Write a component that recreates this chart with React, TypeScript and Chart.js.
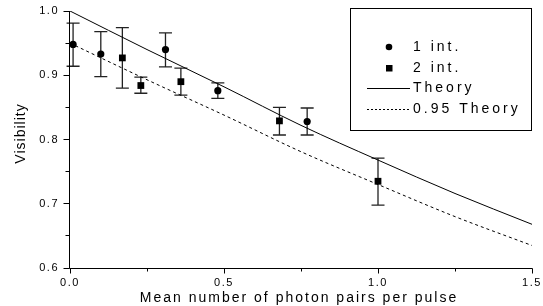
import React, { useEffect, useRef } from 'react';
import { Chart, registerables } from 'chart.js';

Chart.register(...registerables);

// ---- data ----
const oneIntX = [0.01, 0.10, 0.31, 0.48, 0.77];
const oneIntY = [0.948, 0.933, 0.940, 0.876, 0.828];
const oneIntHigh = [0.981, 0.968, 0.966, 0.888, 0.849];
const oneIntLow = [0.914, 0.898, 0.913, 0.864, 0.807];

const twoIntX = [0.17, 0.23, 0.36, 0.68, 1.00];
const twoIntY = [0.927, 0.884, 0.890, 0.829, 0.735];
const twoIntHigh = [0.974, 0.897, 0.911, 0.850, 0.771];
const twoIntLow = [0.880, 0.872, 0.869, 0.807, 0.698];

const theoryX = [0, 0.25, 0.5, 0.75, 1.0, 1.25, 1.5];
const theoryY = [1.0, 0.940, 0.882, 0.822, 0.768, 0.716, 0.668];
const theory95Y = [0.950, 0.893, 0.838, 0.781, 0.730, 0.680, 0.635];

const xTickValues = [0, 0.25, 0.5, 0.75, 1.0, 1.25, 1.5];
const xMajorValues = [0, 0.5, 1.0, 1.5];
const xTickLabels = ['0.0', '0.5', '1.0', '1.5'];
const yTickValues = [0.6, 0.65, 0.7, 0.75, 0.8, 0.85, 0.9, 0.95, 1.0];
const yMajorValues = [0.6, 0.7, 0.8, 0.9, 1.0];
const yTickLabels = ['0.6', '0.7', '0.8', '0.9', '1.0'];

const seriesNames = ['1 int.', '2 int.', 'Theory', '0.95 Theory'];
const xTitle = 'Mean number of photon pairs per pulse';
const yTitle = 'Visibility';

const FONT = '"Liberation Sans", Arial, sans-serif';

function majorIndex(list: number[], v: number) {
  return list.findIndex((m) => Math.abs(m - v) < 1e-6);
}

const customPlugin = {
  id: 'customDraw',
  beforeDraw(chart: any) {
    chart.ctx.letterSpacing = '1.5px';
  },
  beforeDatasetsDraw(chart: any) {
    const ctx = chart.ctx;
    const xs = chart.scales.x;
    const ys = chart.scales.y;
    ctx.save();
    ctx.strokeStyle = '#222';
    ctx.lineWidth = 1.3;
    const cap = 6.5;
    const drawBars = (xsArr: number[], lo: number[], hi: number[]) => {
      xsArr.forEach((x, i) => {
        const px = xs.getPixelForValue(x);
        const pl = ys.getPixelForValue(lo[i]);
        const ph = ys.getPixelForValue(hi[i]);
        ctx.beginPath();
        ctx.moveTo(px, pl);
        ctx.lineTo(px, ph);
        ctx.moveTo(px - cap, pl);
        ctx.lineTo(px + cap, pl);
        ctx.moveTo(px - cap, ph);
        ctx.lineTo(px + cap, ph);
        ctx.stroke();
      });
    };
    drawBars(oneIntX, oneIntLow, oneIntHigh);
    drawBars(twoIntX, twoIntLow, twoIntHigh);
    ctx.restore();
  },
  afterDraw(chart: any) {
    const ctx = chart.ctx;
    const area = chart.chartArea;
    const xs = chart.scales.x;
    const ys = chart.scales.y;
    ctx.save();
    ctx.letterSpacing = '0px';
    // axes and tick marks
    ctx.strokeStyle = '#000';
    ctx.lineWidth = 1;
    const left = Math.round(area.left) - 0.5;
    const bottom = Math.round(area.bottom) + 0.5;
    ctx.beginPath();
    ctx.moveTo(left, Math.round(area.top));
    ctx.lineTo(left, bottom);
    ctx.lineTo(Math.round(area.right) + 0.5, bottom);
    xTickValues.forEach((v) => {
      const px = Math.round(xs.getPixelForValue(v) - 0.5) + 0.5;
      const len = majorIndex(xMajorValues, v) >= 0 ? 5 : 3;
      ctx.moveTo(px, bottom);
      ctx.lineTo(px, bottom + len);
    });
    yTickValues.forEach((v) => {
      const py = Math.round(ys.getPixelForValue(v) - 0.5) + 0.5;
      const len = majorIndex(yMajorValues, v) >= 0 ? 6 : 4;
      ctx.moveTo(left, py);
      ctx.lineTo(left - len, py);
    });
    ctx.stroke();

    ctx.fillStyle = '#000';
    // axis titles
    ctx.font = `14px ${FONT}`;
    ctx.letterSpacing = '2px';
    ctx.textAlign = 'center';
    ctx.textBaseline = 'alphabetic';
    ctx.fillText(xTitle, (area.left + area.right) / 2 - 2, 302);
    ctx.letterSpacing = '1px';
    ctx.translate(25, 134);
    ctx.rotate(-Math.PI / 2);
    ctx.fillText(yTitle, 0.5, 0);
    ctx.setTransform(1, 0, 0, 1, 0, 0);

    // legend box
    const bx = 350, by = 8, bw = 182, bh = 123;
    ctx.strokeStyle = '#000';
    ctx.lineWidth = 1;
    ctx.strokeRect(bx + 0.5, by + 0.5, bw - 1, bh - 1);
    const rows = [47, 68, 88, 109];
    const textX = 413;
    ctx.font = `14px ${FONT}`;
    ctx.letterSpacing = '3px';
    ctx.textAlign = 'left';
    ctx.textBaseline = 'middle';
    ctx.beginPath();
    ctx.arc(389, rows[0], 3.3, 0, Math.PI * 2);
    ctx.fill();
    ctx.fillText(seriesNames[0], textX, rows[0]);
    ctx.fillRect(386, rows[1] - 3, 6.5, 6.5);
    ctx.fillText(seriesNames[1], textX, rows[1]);
    ctx.beginPath();
    ctx.moveTo(367, rows[2] + 0.5);
    ctx.lineTo(410, rows[2] + 0.5);
    ctx.stroke();
    ctx.fillText(seriesNames[2], textX, rows[2]);
    ctx.beginPath();
    ctx.setLineDash([2, 2]);
    ctx.moveTo(367, rows[3] + 0.5);
    ctx.lineTo(410, rows[3] + 0.5);
    ctx.stroke();
    ctx.setLineDash([]);
    ctx.fillText(seriesNames[3], textX, rows[3]);
    ctx.restore();
    ctx.letterSpacing = '0px';
  },
};

const zeroPad = (s: any) => {
  s.paddingLeft = 0;
  s.paddingRight = 0;
  s.paddingTop = 0;
  s.paddingBottom = 0;
};

export default function App() {
  const ref = useRef<HTMLCanvasElement | null>(null);

  useEffect(() => {
    if (!ref.current) return;
    const chart = new Chart(ref.current, {
      type: 'scatter',
      data: {
        datasets: [
          {
            type: 'line',
            label: seriesNames[2],
            data: theoryX.map((x, i) => ({ x, y: theoryY[i] })),
            borderColor: '#000',
            borderWidth: 1,
            pointRadius: 0,
            cubicInterpolationMode: 'monotone',
            fill: false,
          } as any,
          {
            type: 'line',
            label: seriesNames[3],
            data: theoryX.map((x, i) => ({ x, y: theory95Y[i] })),
            borderColor: '#000',
            borderWidth: 1,
            borderDash: [3, 3],
            pointRadius: 0,
            cubicInterpolationMode: 'monotone',
            fill: false,
          } as any,
          {
            label: seriesNames[0],
            data: oneIntX.map((x, i) => ({ x, y: oneIntY[i] })),
            pointStyle: 'circle',
            pointRadius: 3.6,
            backgroundColor: '#000',
            borderColor: '#000',
            borderWidth: 0,
            clip: false,
          } as any,
          {
            label: seriesNames[1],
            data: twoIntX.map((x, i) => ({ x, y: twoIntY[i] })),
            pointStyle: 'rect',
            pointRadius: 4.8,
            backgroundColor: '#000',
            borderColor: '#000',
            borderWidth: 0,
            clip: false,
          } as any,
        ],
      },
      options: {
        animation: false,
        responsive: false,
        maintainAspectRatio: false,
        layout: { padding: { top: 11, right: 11, left: 0, bottom: 0 } },
        plugins: { legend: { display: false }, tooltip: { enabled: false } },
        scales: {
          x: {
            type: 'linear',
            min: 0,
            max: 1.5,
            grid: { display: false, drawTicks: false },
            border: { display: false },
            afterBuildTicks: (s: any) => {
              s.ticks = xTickValues.map((v) => ({ value: v }));
            },
            afterFit: (s: any) => {
              s.height = 38;
              zeroPad(s);
            },
            ticks: {
              autoSkip: false,
              maxRotation: 0,
              color: '#000',
              padding: 8,
              font: { family: FONT, size: 11 },
              callback: (v: any) => {
                const i = majorIndex(xMajorValues, Number(v));
                return i >= 0 ? xTickLabels[i] : '';
              },
            },
          },
          y: {
            type: 'linear',
            min: 0.6,
            max: 1.0,
            grid: { display: false, drawTicks: false },
            border: { display: false },
            afterBuildTicks: (s: any) => {
              s.ticks = yTickValues.map((v) => ({ value: v }));
            },
            afterFit: (s: any) => {
              s.width = 70;
              zeroPad(s);
            },
            ticks: {
              autoSkip: false,
              color: '#000',
              padding: 11,
              font: { family: FONT, size: 11 },
              callback: (v: any) => {
                const i = majorIndex(yMajorValues, Number(v));
                return i >= 0 ? yTickLabels[i] : '';
              },
            },
          },
        },
      },
      plugins: [customPlugin],
    });
    return () => chart.destroy();
  }, []);

  return (
    <div style={{ position: 'fixed', left: 0, top: 0, width: 543, height: 306, background: '#fff' }}>
      <canvas ref={ref} width={543} height={306} style={{ display: 'block', width: 543, height: 306 }} />
    </div>
  );
}
